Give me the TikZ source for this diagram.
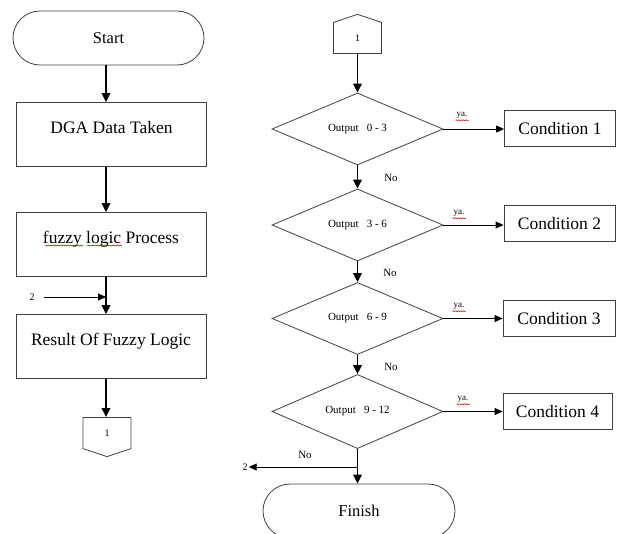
\documentclass[tikz,border=0pt]{standalone}
\usepackage{fontspec}
\setmainfont{Liberation Serif}
\usetikzlibrary{arrows.meta,shapes.geometric,shapes.symbols,decorations.pathmorphing}

\tikzset{
  frame/.style={draw=black!75, line width=0.8pt},
  procbox/.style={frame, minimum width=190pt, minimum height=64pt, font=\fontsize{17.5}{20}\selectfont, text height=12pt, text depth=14pt, inner sep=0pt},
  pill/.style={frame, rounded corners=27pt, minimum width=191pt, minimum height=54pt, font=\fontsize{16.5}{19}\selectfont},
  decide/.style={frame, diamond, minimum width=171pt, minimum height=72pt, inner sep=0pt, font=\fontsize{11}{13}\selectfont},
  condbox/.style={frame, minimum height=36pt, inner sep=0pt, font=\fontsize{17.5}{20}\selectfont},
  offpage/.style={frame, signal, signal from=nowhere, signal pointer angle=143, minimum width=48pt, minimum height=32pt, inner sep=0pt, font=\fontsize{10}{12}\selectfont},
  flow/.style={line width=1.8pt, -{Triangle[length=9pt,width=8.5pt]}},
  thin flow/.style={line width=0.9pt, -{Triangle[length=8pt,width=7pt]}},
  tag/.style={font=\fontsize{11}{13}\selectfont, inner sep=1pt},
  yes tag/.style={font=\fontsize{9}{11}\selectfont, inner sep=1pt},
  squiggle/.style={red!75!black, line width=0.5pt, decorate, decoration={snake, amplitude=0.6pt, segment length=2.5pt}}
}

\begin{document}
\begin{tikzpicture}[x=1pt, y=-1pt]
\useasboundingbox (0,0) rectangle (617,533);

% left column
\coordinate (lc) at (106,0);
\node[pill] (start) at (108.5,38) {Start};
\node[procbox] (dga) at (111.5,134.5) {DGA Data Taken};
\node[procbox] (fuzzy) at (111,244.5) {fuzzy logic Process};
\node[procbox] (result) at (111,346.5) {Result Of Fuzzy Logic};
\node[offpage, signal to=south] (out1) at (107,433) {1};
\node[tag, font=\fontsize{10}{12}\selectfont] (two) at (32,297) {2};

\draw[flow] (start.south -| lc) -- (dga.north -| lc);
\draw[flow] (dga.south -| lc) -- (fuzzy.north -| lc);
\draw[flow] (fuzzy.south -| lc) -- (result.north -| lc);
\draw[flow] (result.south -| lc) -- (out1.north -| lc);
\draw[thin flow] (two.east) ++(8,0) -- (two -| lc);

% spell-check marks under the process text
\draw[squiggle] (45,245.5) -- (83,245.5);
\draw[squiggle] (87,245.5) -- (122,245.5);

% right column
\node[offpage, signal to=north] (in1) at (357.5,38) {1};
\node[decide] (d1) at (357.5,129) {Output~~~0 - 3};
\node[decide] (d2) at (357.5,225) {Output~~~3 - 6};
\node[decide] (d3) at (357.5,318.5) {Output~~~6 - 9};
\node[decide] (d4) at (357.5,411.5) {Output~~~9 - 12};
\node[condbox, minimum width=111pt] (c1) at (560,128.5) {Condition 1};
\node[condbox, minimum width=111pt] (c2) at (559.5,223.5) {Condition 2};
\node[condbox, minimum width=112pt] (c3) at (559,318.5) {Condition 3};
\node[condbox, minimum width=109pt] (c4) at (557.5,411.5) {Condition 4};
\node[pill, minimum width=192pt] (finish) at (359,511) {Finish};

\draw[flow] (in1.south) -- (d1.north);
\draw[flow] (d1.south) -- (d2.north);
\draw[flow] (d2.south) -- (d3.north);
\draw[flow] (d3.south) -- (d4.north);
\draw[flow] (d4.south) -- (finish.north -| d4.south);

\draw[thin flow] (d1.east) -- (c1.west |- d1.east);
\draw[thin flow] (d2.east) -- (c2.west |- d2.east);
\draw[thin flow] (d3.east) -- (c3.west |- d3.east);
\draw[thin flow] (d4.east) -- (c4.west |- d4.east);

\node[yes tag] (y1) at (462,115) {ya.};
\node[yes tag] (y2) at (459,213) {ya.};
\node[yes tag] (y3) at (459,306) {ya.};
\node[yes tag] (y4) at (463,399) {ya.};
\foreach \y in {y1,y2,y3,y4}
  \draw[squiggle] ([yshift=-1pt]\y.south west) -- ([yshift=-1pt]\y.south east);

\node[tag] (n1) at (391,178) {No};
\node[tag] (n2) at (390,273) {No};
\node[tag] (n3) at (391,367) {No};
\node[tag] (n4) at (305,455) {No};

% return path to connector 2
\coordinate (split) at (357.5,467);
\node[tag, font=\fontsize{10}{12}\selectfont] (back2) at (245,467) {2};
\draw[thin flow] (split) -- (back2.east);
\end{tikzpicture}
\end{document}
